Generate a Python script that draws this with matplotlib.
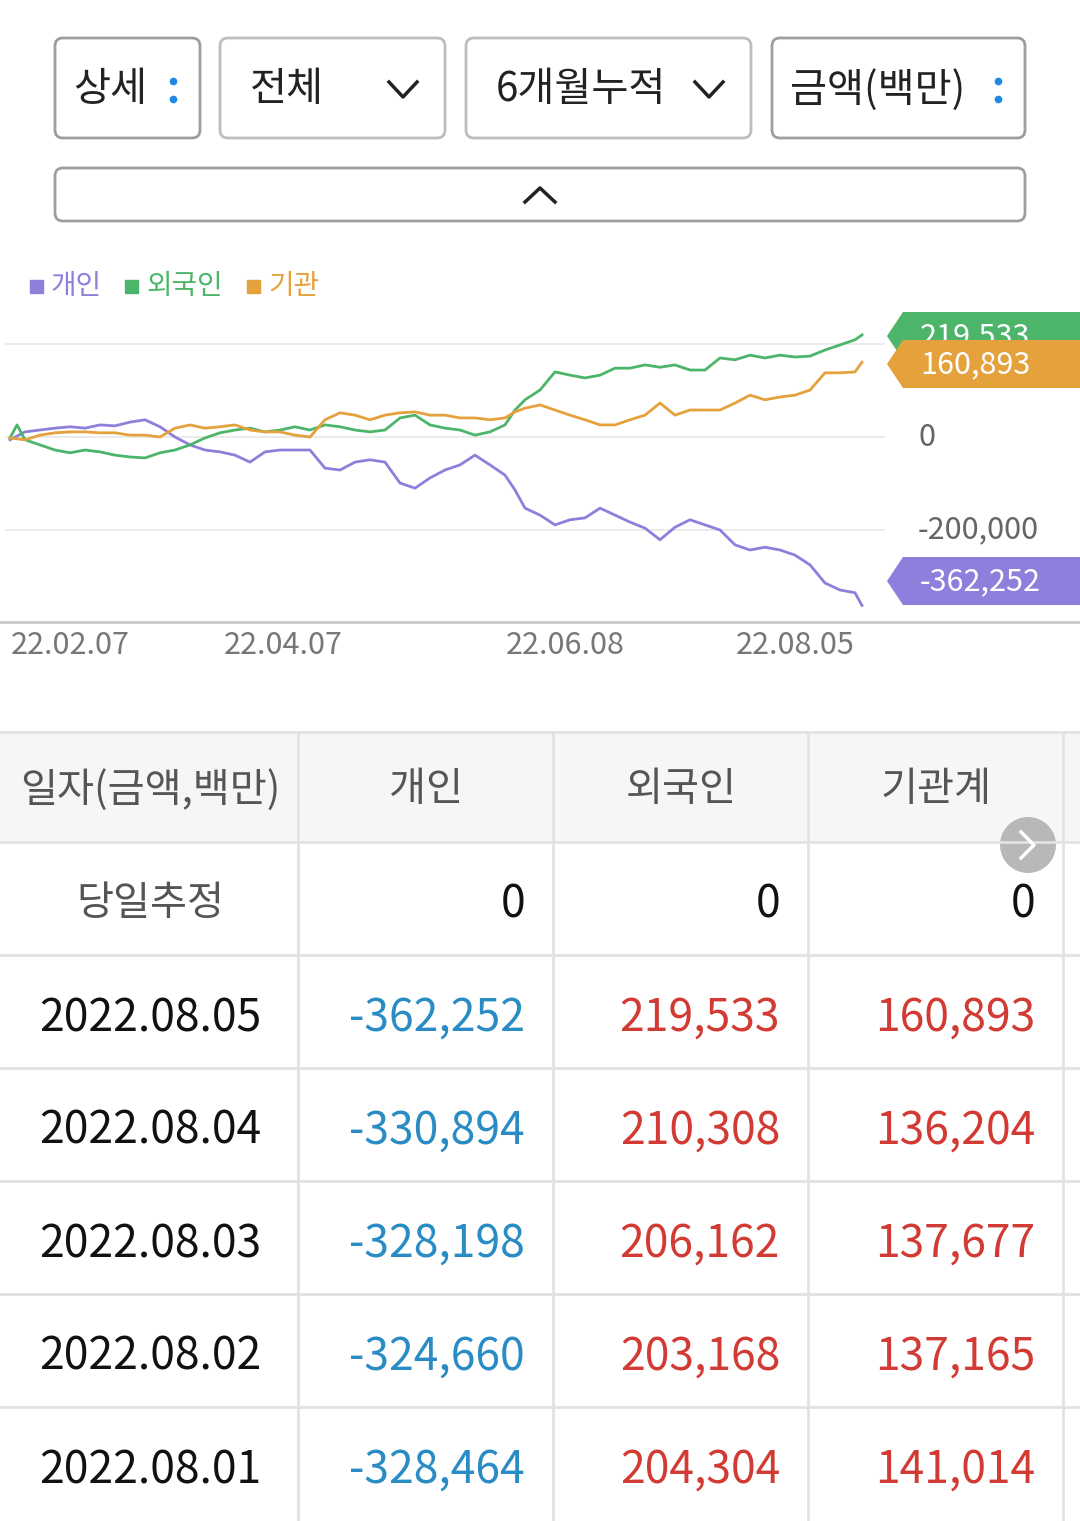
import matplotlib
matplotlib.use("Agg")
import matplotlib.pyplot as plt
from matplotlib.patches import FancyBboxPatch, Rectangle, Polygon, Circle

plt.rcParams['font.family'] = ['Noto Sans CJK KR', 'DejaVu Sans']

# ---- data (values in thousand-million KRW units, i.e. x1000 = 백만) ----
x = [5 + 15 * k for k in range(34)] + [510, 520] + [535 + 15 * k for k in range(22)] + [857]
individual = [-6, 11, 15, 19, 22, 19, 26, 24, 32, 37, 22, 0, -17, -28, -32, -39, -54, -32, -28, -28,
              -28, -67, -71, -54, -49, -54, -99, -110, -88, -71, -60, -39, -60, -82,
              -114, -153, -168, -189, -178, -174, -153, -168, -183, -196, -221, -194, -178, -189, -200,
              -232, -243, -237, -243, -254, -275, -314, -329, -335, -362.252]
institution = [-2, -6, 4, 9, 11, 11, 9, 9, 4, 4, 0, 19, 26, 19, 22, 26, 15, 11, 11, 4,
               0, 37, 52, 47, 37, 47, 52, 54, 47, 47, 41, 41, 37, 41,
               54, 62, 69, 58, 47, 37, 26, 26, 37, 47, 73, 47, 58, 58, 58, 73, 90, 80, 86, 90,
               101, 138, 138, 140, 160.893]
foreign_x = x[:1] + [12] + x[1:]
foreign = [-2, 26, -6, -17, -28, -34, -28, -32, -39, -43, -45, -34, -28, -17, -2, 9, 15, 19, 11, 15, 22,
           15, 26, 22, 15, 11, 15, 41, 47, 26, 19, 15, 4, 11, 26,
           58, 80, 101, 140, 133, 127, 133, 148, 148, 155, 150, 155, 144, 144, 170, 166, 176, 170, 176,
           172, 174, 187, 198, 209, 219.533]
y_ticks = [200, 0, -200]
y_tick_labels = ["", "0", "-200,000"]
date_ticks = [70, 283, 565, 795]
date_labels = ["22.02.07", "22.04.07", "22.06.08", "22.08.05"]

buttons = [("상세", 55, 200, True), ("전체", 220, 445, "v"), ("6개월누적", 466, 751, "v"), ("금액(백만)", 772, 1025, True)]
headers = ["일자(금액,백만)", "개인", "외국인", "기관계"]
dates = ["당일추정", "2022.08.05", "2022.08.04", "2022.08.03", "2022.08.02", "2022.08.01"]
col_ind = ["0", "-362,252", "-330,894", "-328,198", "-324,660", "-328,464"]
col_for = ["0", "219,533", "210,308", "206,162", "203,168", "204,304"]
col_inst = ["0", "160,893", "136,204", "137,677", "137,165", "141,014"]

PURPLE = "#8f7fdc"
GREEN = "#4db56a"
ORANGE = "#e5a13c"
BLUE = "#2a8cc4"
RED = "#d23a34"

W, H = 1080, 1521
fig = plt.figure(figsize=(W / 100, H / 100), dpi=100)
bg = fig.add_axes([0, 0, 1, 1])
bg.set_xlim(0, W)
bg.set_ylim(H, 0)
bg.axis("off")

# ---- top buttons ----
for label, x0, x1, kind in buttons:
    bg.add_patch(FancyBboxPatch((x0, 38), x1 - x0, 100, boxstyle="round,pad=0,rounding_size=8",
                                fc="white", ec="#bdbdbd" if kind == "v" else "#9e9e9e", lw=2))
    if kind == "v":
        bg.text(x0 + 30, 90, label, fontsize=29, va="center", ha="left", color="#222")
        cx = x1 - 42
        bg.plot([cx - 14, cx, cx + 14], [82, 97, 82], color="#222", lw=2.5)
    else:
        bg.text(x0 + 18, 90, label, fontsize=29, va="center", ha="left", color="#222")
        bg.plot([x1 - 27, x1 - 27], [81, 99], ls="none", marker="o", ms=4.5, color="#1e88e5")
bg.add_patch(FancyBboxPatch((55, 168), 970, 53, boxstyle="round,pad=0,rounding_size=8",
                            fc="white", ec="#9e9e9e", lw=2))
bg.plot([525, 540, 555], [202, 188, 202], color="#222", lw=2.5)

# ---- legend ----
lx = 30
for name, c in [("개인", PURPLE), ("외국인", GREEN), ("기관", ORANGE)]:
    bg.add_patch(Rectangle((lx, 280), 13, 13, color=c))
    bg.text(lx + 21, 286, name, fontsize=20, color=c, va="center")
    lx += 21 + len(name) * 27 + 20

# ---- chart ----
ax = fig.add_axes([5 / W, 1 - 622 / H, 880 / W, (622 - 320) / H])
ax.set_xlim(0, 880)
ylo = -(622 - 437) * 200 / 93
yhi = (437 - 320) * 200 / 93
ax.set_ylim(ylo, yhi)
for t in y_ticks:
    ax.axhline(t, color="#e8e8e8", lw=1.2, zorder=0)
ax.plot(x, individual, color=PURPLE, lw=2)
ax.plot(foreign_x, foreign, color=GREEN, lw=2)
ax.plot(x, institution, color=ORANGE, lw=2)
ax.axis("off")
for t, lab in zip(y_ticks, y_tick_labels):
    yp = 437 - t * 93 / 200
    bg.text(918, yp, lab, fontsize=22, color="#666", va="center")
bg.plot([0, W], [622, 622], color="#c8c8c8", lw=2)
for t, lab in zip(date_ticks, date_labels):
    bg.text(t, 646, lab, fontsize=22, color="#777", va="center", ha="center")

# value tags (later tags cover earlier ones)
def tag(yc, c, txt, z):
    bg.add_patch(Polygon([(887, yc), (903, yc - 24), (W, yc - 24), (W, yc + 24), (903, yc + 24)],
                         closed=True, fc=c, ec="none", zorder=z))
    bg.text(920, yc + 1, txt, fontsize=22, color="white", va="center", zorder=z + 0.5)
tag(336, GREEN, "219,533", 10)
tag(364, ORANGE, "160,893", 12)
tag(581, PURPLE, "-362,252", 10)

# ---- table ----
bg.add_patch(Rectangle((0, 732), W, 110, fc="#f6f6f6", ec="none"))
for yl in [732, 842, 955, 1068, 1181, 1294, 1407]:
    bg.plot([0, W], [yl, yl], color="#e2e2e2", lw=2)
for xl in [298, 553, 808, 1063]:
    bg.plot([xl, xl], [732, H], color="#e2e2e2", lw=2)
hx = [150, 426, 681, 936]
for h, xc in zip(headers, hx):
    bg.text(xc, 790, h, fontsize=29, color="#555", ha="center", va="center")
row_y = [904, 1018, 1131, 1244, 1357, 1470]
for i, yc in enumerate(row_y):
    bg.text(150, yc, dates[i], fontsize=32 if i else 29, color="#111" if i else "#555",
            ha="center", va="center")
    for val, xr in [(col_ind[i], 525), (col_for[i], 780), (col_inst[i], 1035)]:
        c = "#111" if val == "0" else (BLUE if val.startswith("-") else RED)
        bg.text(xr, yc, val, fontsize=32, color=c, ha="right", va="center")
bg.add_patch(Circle((1028, 845), 28, fc="#b8b8b8", ec="none"))
bg.plot([1021, 1034, 1021], [832, 845, 858], color="white", lw=2.5)

fig.savefig("out.png", dpi=100)
